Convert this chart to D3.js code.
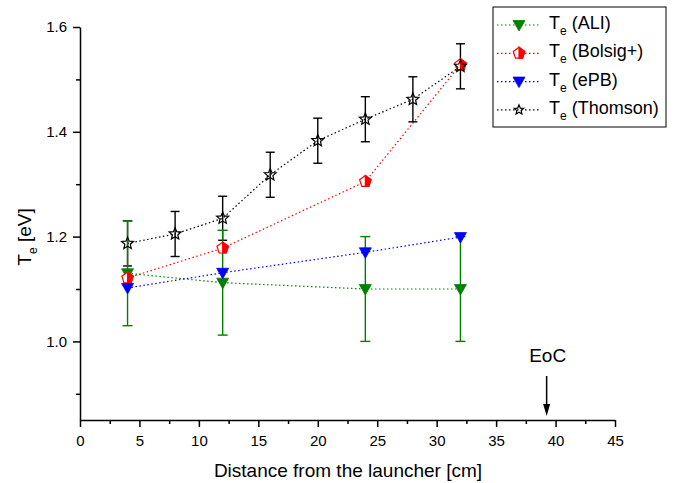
<!DOCTYPE html>
<html>
<head>
<meta charset="utf-8">
<script src="https://cdnjs.cloudflare.com/ajax/libs/d3/7.8.5/d3.min.js"></script>
<style>
  body { margin: 0; background: #fff; }
  svg { font-family: "Liberation Sans", Arial, sans-serif; }
</style>
</head>
<body>
<div id="chart"></div>
<script>
// data
const aliX = [4, 12, 24, 32];
const aliY = [1.13, 1.112, 1.10, 1.10];
const aliErr = [0.1, 0.1, 0.1, 0.1];

const bolsigX = [4, 12, 24, 32];
const bolsigY = [1.121, 1.178, 1.305, 1.528];

const epbX = [4, 12, 24, 32];
const epbY = [1.102, 1.131, 1.170, 1.199];

const thomsonX = [4, 8, 12, 16, 20, 24, 28, 32];
const thomsonY = [1.187, 1.205, 1.235, 1.318, 1.383, 1.424, 1.462, 1.525];
const thomsonErr = [0.043, 0.043, 0.042, 0.043, 0.043, 0.043, 0.043, 0.043];

const xMajor = [0, 5, 10, 15, 20, 25, 30, 35, 40, 45];
const xMinor = [2.5, 7.5, 12.5, 17.5, 22.5, 27.5, 32.5, 37.5, 42.5];
const yMajor = [1.0, 1.2, 1.4, 1.6];
const yMinor = [0.9, 1.1, 1.3, 1.5];

const eocX = 39.25;

const width = 686;
const height = 483;

const xScale = d3.scaleLinear().domain([0, 45]).range([80, 615]);
const yScale = d3.scaleLinear().domain([0.85, 1.6]).range([420, 27]);

const svg = d3.select("#chart").append("svg")
    .attr("width", width)
    .attr("height", height);

// marker shapes
const triDown = "M-6,-4.5L6,-4.5L0,6Z";
function pentagon(r) {
    const pts = d3.range(5).map(i => {
        const a = -Math.PI / 2 + i * 2 * Math.PI / 5;
        return [r * Math.cos(a), r * Math.sin(a)];
    });
    return "M" + pts.join("L") + "Z";
}
function halfPentagon(r) {
    const a1 = -Math.PI / 2 + 2 * Math.PI / 5;
    const a2 = -Math.PI / 2 + 4 * Math.PI / 5;
    const pts = [[0, -r], [r * Math.cos(a1), r * Math.sin(a1)], [r * Math.cos(a2), r * Math.sin(a2)], [0, r * Math.sin(a2)]];
    return "M" + pts.join("L") + "Z";
}
function star(ro, ri) {
    const pts = d3.range(10).map(i => {
        const a = -Math.PI / 2 + i * Math.PI / 5;
        const r = i % 2 === 0 ? ro : ri;
        return [r * Math.cos(a), r * Math.sin(a)];
    });
    return "M" + pts.join("L") + "Z";
}

const series = [
    { name: "ALI", xs: aliX, ys: aliY, color: "#008000" },
    { name: "Bolsig+", xs: bolsigX, ys: bolsigY, color: "#ff0000" },
    { name: "ePB", xs: epbX, ys: epbY, color: "#0000ff" },
    { name: "Thomson", xs: thomsonX, ys: thomsonY, color: "#000000" }
];

const line = d3.line()
    .x(d => xScale(d[0]))
    .y(d => yScale(d[1]));

// dotted connecting lines
series.forEach(s => {
    svg.append("path")
        .datum(s.xs.map((x, i) => [x, s.ys[i]]))
        .attr("d", line)
        .attr("fill", "none")
        .attr("stroke", s.color)
        .attr("stroke-width", 1.2)
        .attr("stroke-dasharray", "1.5,2.5");
});

// error bars
function errorBars(xs, ys, errs, color, cap) {
    const g = svg.append("g").attr("stroke", color).attr("stroke-width", 1.4);
    xs.forEach((x, i) => {
        const cx = xScale(x);
        const y0 = yScale(ys[i] - errs[i]);
        const y1 = yScale(ys[i] + errs[i]);
        g.append("line").attr("x1", cx).attr("x2", cx).attr("y1", y0).attr("y2", y1);
        g.append("line").attr("x1", cx - cap).attr("x2", cx + cap).attr("y1", y0).attr("y2", y0);
        g.append("line").attr("x1", cx - cap).attr("x2", cx + cap).attr("y1", y1).attr("y2", y1);
    });
}
errorBars(thomsonX, thomsonY, thomsonErr, "#000000", 4.5);
errorBars(aliX, aliY, aliErr, "#008000", 5);

// markers
function drawMarker(g, name, color, starR) {
    if (name === "ALI" || name === "ePB") {
        g.append("path").attr("d", triDown).attr("fill", color).attr("stroke", color).attr("stroke-width", 0.8);
    } else if (name === "Bolsig+") {
        g.append("path").attr("d", pentagon(6)).attr("fill", "#fff").attr("stroke", color).attr("stroke-width", 1.2);
        g.append("path").attr("d", halfPentagon(6)).attr("fill", color).attr("stroke", color).attr("stroke-width", 1.2);
    } else {
        g.append("path").attr("d", star(starR, starR * 0.45)).attr("fill", "none").attr("stroke", color).attr("stroke-width", 1.2);
    }
}

series.forEach(s => {
    s.xs.forEach((x, i) => {
        const g = svg.append("g")
            .attr("transform", `translate(${xScale(x)},${yScale(s.ys[i])})`);
        drawMarker(g, s.name, s.color, 6.3);
    });
});

// axes
svg.append("g")
    .attr("transform", "translate(0,420)")
    .call(d3.axisBottom(xScale).tickValues(xMajor).tickSize(7).tickSizeOuter(0).tickPadding(8).tickFormat(d3.format("d")));
svg.append("g")
    .attr("transform", "translate(0,420)")
    .call(d3.axisBottom(xScale).tickValues(xMinor).tickSize(4).tickSizeOuter(0).tickFormat(""))
    .select(".domain").remove();

svg.append("g")
    .attr("transform", "translate(80,0)")
    .call(d3.axisLeft(yScale).tickValues(yMajor).tickSize(7).tickSizeOuter(0).tickPadding(6).tickFormat(d3.format(".1f")));
svg.append("g")
    .attr("transform", "translate(80,0)")
    .call(d3.axisLeft(yScale).tickValues(yMinor).tickSize(4).tickSizeOuter(0).tickFormat(""))
    .select(".domain").remove();

svg.selectAll(".domain, .tick line").attr("stroke", "#000").attr("stroke-width", 1.5);
svg.selectAll(".tick text")
    .style("font-size", "15px")
    .style("font-family", "'Liberation Sans', Arial, sans-serif")
    .attr("fill", "#000");

// axis titles
svg.append("text")
    .attr("x", 348)
    .attr("y", 477)
    .attr("text-anchor", "middle")
    .style("font-size", "19px")
    .text("Distance from the launcher [cm]");

const yTitle = svg.append("text")
    .attr("transform", "translate(31,237) rotate(-90)")
    .attr("text-anchor", "middle")
    .style("font-size", "19px");
yTitle.append("tspan").text("T");
yTitle.append("tspan").attr("dy", 6).style("font-size", "12px").text("e");
yTitle.append("tspan").attr("dy", -6).text(" [eV]");

// EoC annotation
const ex = xScale(eocX);
svg.append("text")
    .attr("x", ex + 1)
    .attr("y", 362)
    .attr("text-anchor", "middle")
    .style("font-size", "19px")
    .text("EoC");
svg.append("line")
    .attr("x1", ex).attr("x2", ex)
    .attr("y1", 376).attr("y2", 406)
    .attr("stroke", "#000").attr("stroke-width", 1.5);
svg.append("path")
    .attr("d", `M${ex - 3.5},404L${ex + 3.5},404L${ex},416Z`)
    .attr("fill", "#000");

// legend
const legend = svg.append("g");
legend.append("rect")
    .attr("x", 493).attr("y", 7)
    .attr("width", 173).attr("height", 120)
    .attr("fill", "#fff")
    .attr("stroke", "#000")
    .attr("stroke-width", 1);

series.forEach((s, i) => {
    const cy = 25 + i * 28.3;
    legend.append("line")
        .attr("x1", 497).attr("x2", 541)
        .attr("y1", cy).attr("y2", cy)
        .attr("stroke", s.color)
        .attr("stroke-width", 1.2)
        .attr("stroke-dasharray", "1.5,2.5");
    const g = legend.append("g").attr("transform", `translate(519,${cy})`);
    drawMarker(g, s.name, s.color, 5);
    const t = legend.append("text")
        .attr("x", 549)
        .attr("y", cy + 4)
        .style("font-size", "18px");
    t.append("tspan").text("T");
    t.append("tspan").attr("dy", 6).style("font-size", "12px").text("e");
    t.append("tspan").attr("dy", -6).text(` (${s.name})`);
});
</script>
</body>
</html>
